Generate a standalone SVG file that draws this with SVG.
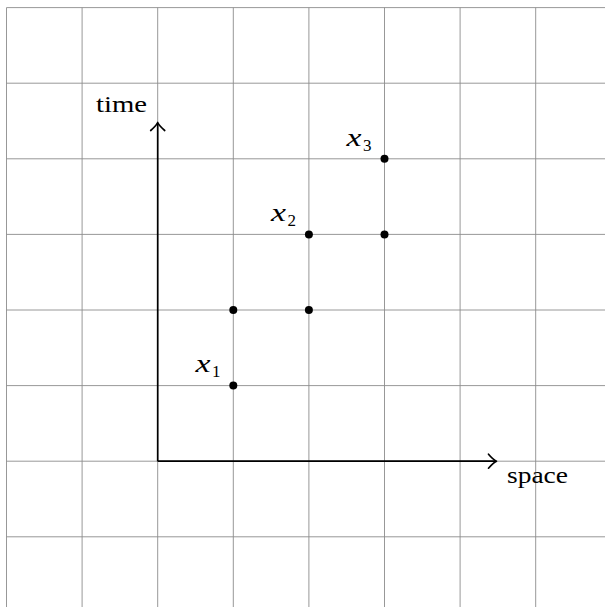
<svg xmlns="http://www.w3.org/2000/svg" width="605" height="607" viewBox="0 0 605 607">
<defs>
<style>
.grid line{stroke:#8c8c8c;stroke-width:0.9;fill:none}
.axis{stroke:#000;stroke-width:1.7;fill:none}
.tip{stroke:#000;stroke-width:1.7;fill:none;stroke-linecap:round;stroke-linejoin:round}
text{font-family:'Liberation Serif',serif;fill:#000}
.lbl{font-size:24px}
.var{font-size:25px;font-style:italic}
.sub{font-size:17px}
.dot{fill:#000}
</style>
</defs>
<rect width="605" height="607" fill="#fff"/>
<g id="grid" class="grid">
<line x1="6.5" y1="7.6" x2="6.5" y2="607"/>
<line x1="82.1" y1="7.6" x2="82.1" y2="607"/>
<line x1="157.7" y1="7.6" x2="157.7" y2="607"/>
<line x1="233.3" y1="7.6" x2="233.3" y2="607"/>
<line x1="308.9" y1="7.6" x2="308.9" y2="607"/>
<line x1="384.5" y1="7.6" x2="384.5" y2="607"/>
<line x1="460.1" y1="7.6" x2="460.1" y2="607"/>
<line x1="535.7" y1="7.6" x2="535.7" y2="607"/>
<line x1="6.5" y1="7.6" x2="605" y2="7.6"/>
<line x1="6.5" y1="83.2" x2="605" y2="83.2"/>
<line x1="6.5" y1="158.8" x2="605" y2="158.8"/>
<line x1="6.5" y1="234.4" x2="605" y2="234.4"/>
<line x1="6.5" y1="310" x2="605" y2="310"/>
<line x1="6.5" y1="385.6" x2="605" y2="385.6"/>
<line x1="6.5" y1="461.2" x2="605" y2="461.2"/>
<line x1="6.5" y1="536.8" x2="605" y2="536.8"/>
</g>
<g id="connectors">
<line class="axis" x1="157.7" y1="461.2" x2="157.7" y2="123"/>
<path class="tip" d="M150.7,130.5 Q156,126 157.7,122.5 Q159.4,126 164.7,130.5"/>
<line class="axis" x1="157.7" y1="461.2" x2="496" y2="461.2"/>
<path class="tip" d="M488.5,454.2 Q493,459.5 496.5,461.2 Q493,462.9 488.5,468.2"/>
</g>
<g id="label-time"><text class="lbl" x="96" y="112" textLength="51" lengthAdjust="spacingAndGlyphs">time</text></g>
<g id="label-space"><text class="lbl" x="507" y="483" textLength="61" lengthAdjust="spacingAndGlyphs">space</text></g>
<g id="p1">
<circle class="dot" cx="233.3" cy="385.6" r="4"/>
<text class="var" x="195.5" y="372" textLength="15" lengthAdjust="spacingAndGlyphs">x</text><text class="sub" x="212" y="377">1</text>
</g>
<g id="p2"><circle class="dot" cx="233.3" cy="310" r="4"/></g>
<g id="p3"><circle class="dot" cx="308.9" cy="310" r="4"/></g>
<g id="p4">
<circle class="dot" cx="308.9" cy="234.4" r="4"/>
<text class="var" x="271" y="221" textLength="15" lengthAdjust="spacingAndGlyphs">x</text><text class="sub" x="287.5" y="226">2</text>
</g>
<g id="p5"><circle class="dot" cx="384.5" cy="234.4" r="4"/></g>
<g id="p6">
<circle class="dot" cx="384.5" cy="158.8" r="4"/>
<text class="var" x="346.5" y="145.5" textLength="15" lengthAdjust="spacingAndGlyphs">x</text><text class="sub" x="363" y="150.5">3</text>
</g>
</svg>
